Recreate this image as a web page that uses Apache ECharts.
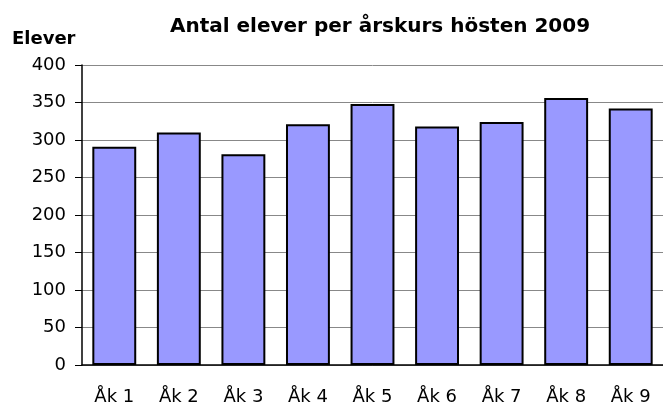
<!DOCTYPE html>
<html>
<head>
<meta charset="utf-8">
<script src="https://cdn.jsdelivr.net/npm/echarts@6/dist/echarts.min.js"></script>
<style>
    html, body { margin: 0; padding: 0; background: #fff; }
    #chart { width: 663px; height: 406px; }
</style>
</head>
<body>
<div id="chart"></div>
<script>
// årskurser och antal elever
const categories = ['Åk 1', 'Åk 2', 'Åk 3', 'Åk 4', 'Åk 5', 'Åk 6', 'Åk 7', 'Åk 8', 'Åk 9'];
const elever = [291, 310, 281, 321, 348, 318, 324, 356, 342];

const myChart = echarts.init(document.getElementById('chart'));
const option = {
    animation: false,
    title: [
        {
            text: 'Antal elever per årskurs hösten 2009',
            left: 375,
            top: 12,
            textAlign: 'center',
            textStyle: {
                fontFamily: 'DejaVu Sans',
                fontSize: 20,
                fontWeight: 'bold',
                color: '#000'
            }
        },
        {
            // y-axelns rubrik
            text: 'Elever',
            left: 7,
            top: 25,
            textStyle: {
                fontFamily: 'DejaVu Sans',
                fontSize: 18,
                fontWeight: 'bold',
                color: '#000'
            }
        }
    ],
    grid: {
        left: 82,
        right: 0,
        top: 65,
        bottom: 41
    },
    xAxis: {
        type: 'category',
        data: categories,
        axisLine: { lineStyle: { color: '#000', width: 1.5 } },
        axisTick: { show: false },
        axisLabel: {
            color: '#000',
            fontFamily: 'DejaVu Sans',
            fontSize: 18,
            margin: 23
        }
    },
    yAxis: {
        type: 'value',
        min: 0,
        max: 400,
        interval: 50,
        axisLine: { show: true, lineStyle: { color: '#000', width: 1.5 } },
        axisTick: { show: true, length: 7, lineStyle: { color: '#000' } },
        axisLabel: {
            color: '#000',
            fontFamily: 'DejaVu Sans',
            fontSize: 18,
            margin: 16
        },
        splitLine: { lineStyle: { color: '#888', width: 1 } }
    },
    series: [
        {
            type: 'bar',
            data: elever,
            barCategoryGap: '32%',
            itemStyle: {
                color: '#9999FF',
                borderColor: '#000',
                borderWidth: 2
            }
        }
    ]
};
myChart.setOption(option);
</script>
</body>
</html>
